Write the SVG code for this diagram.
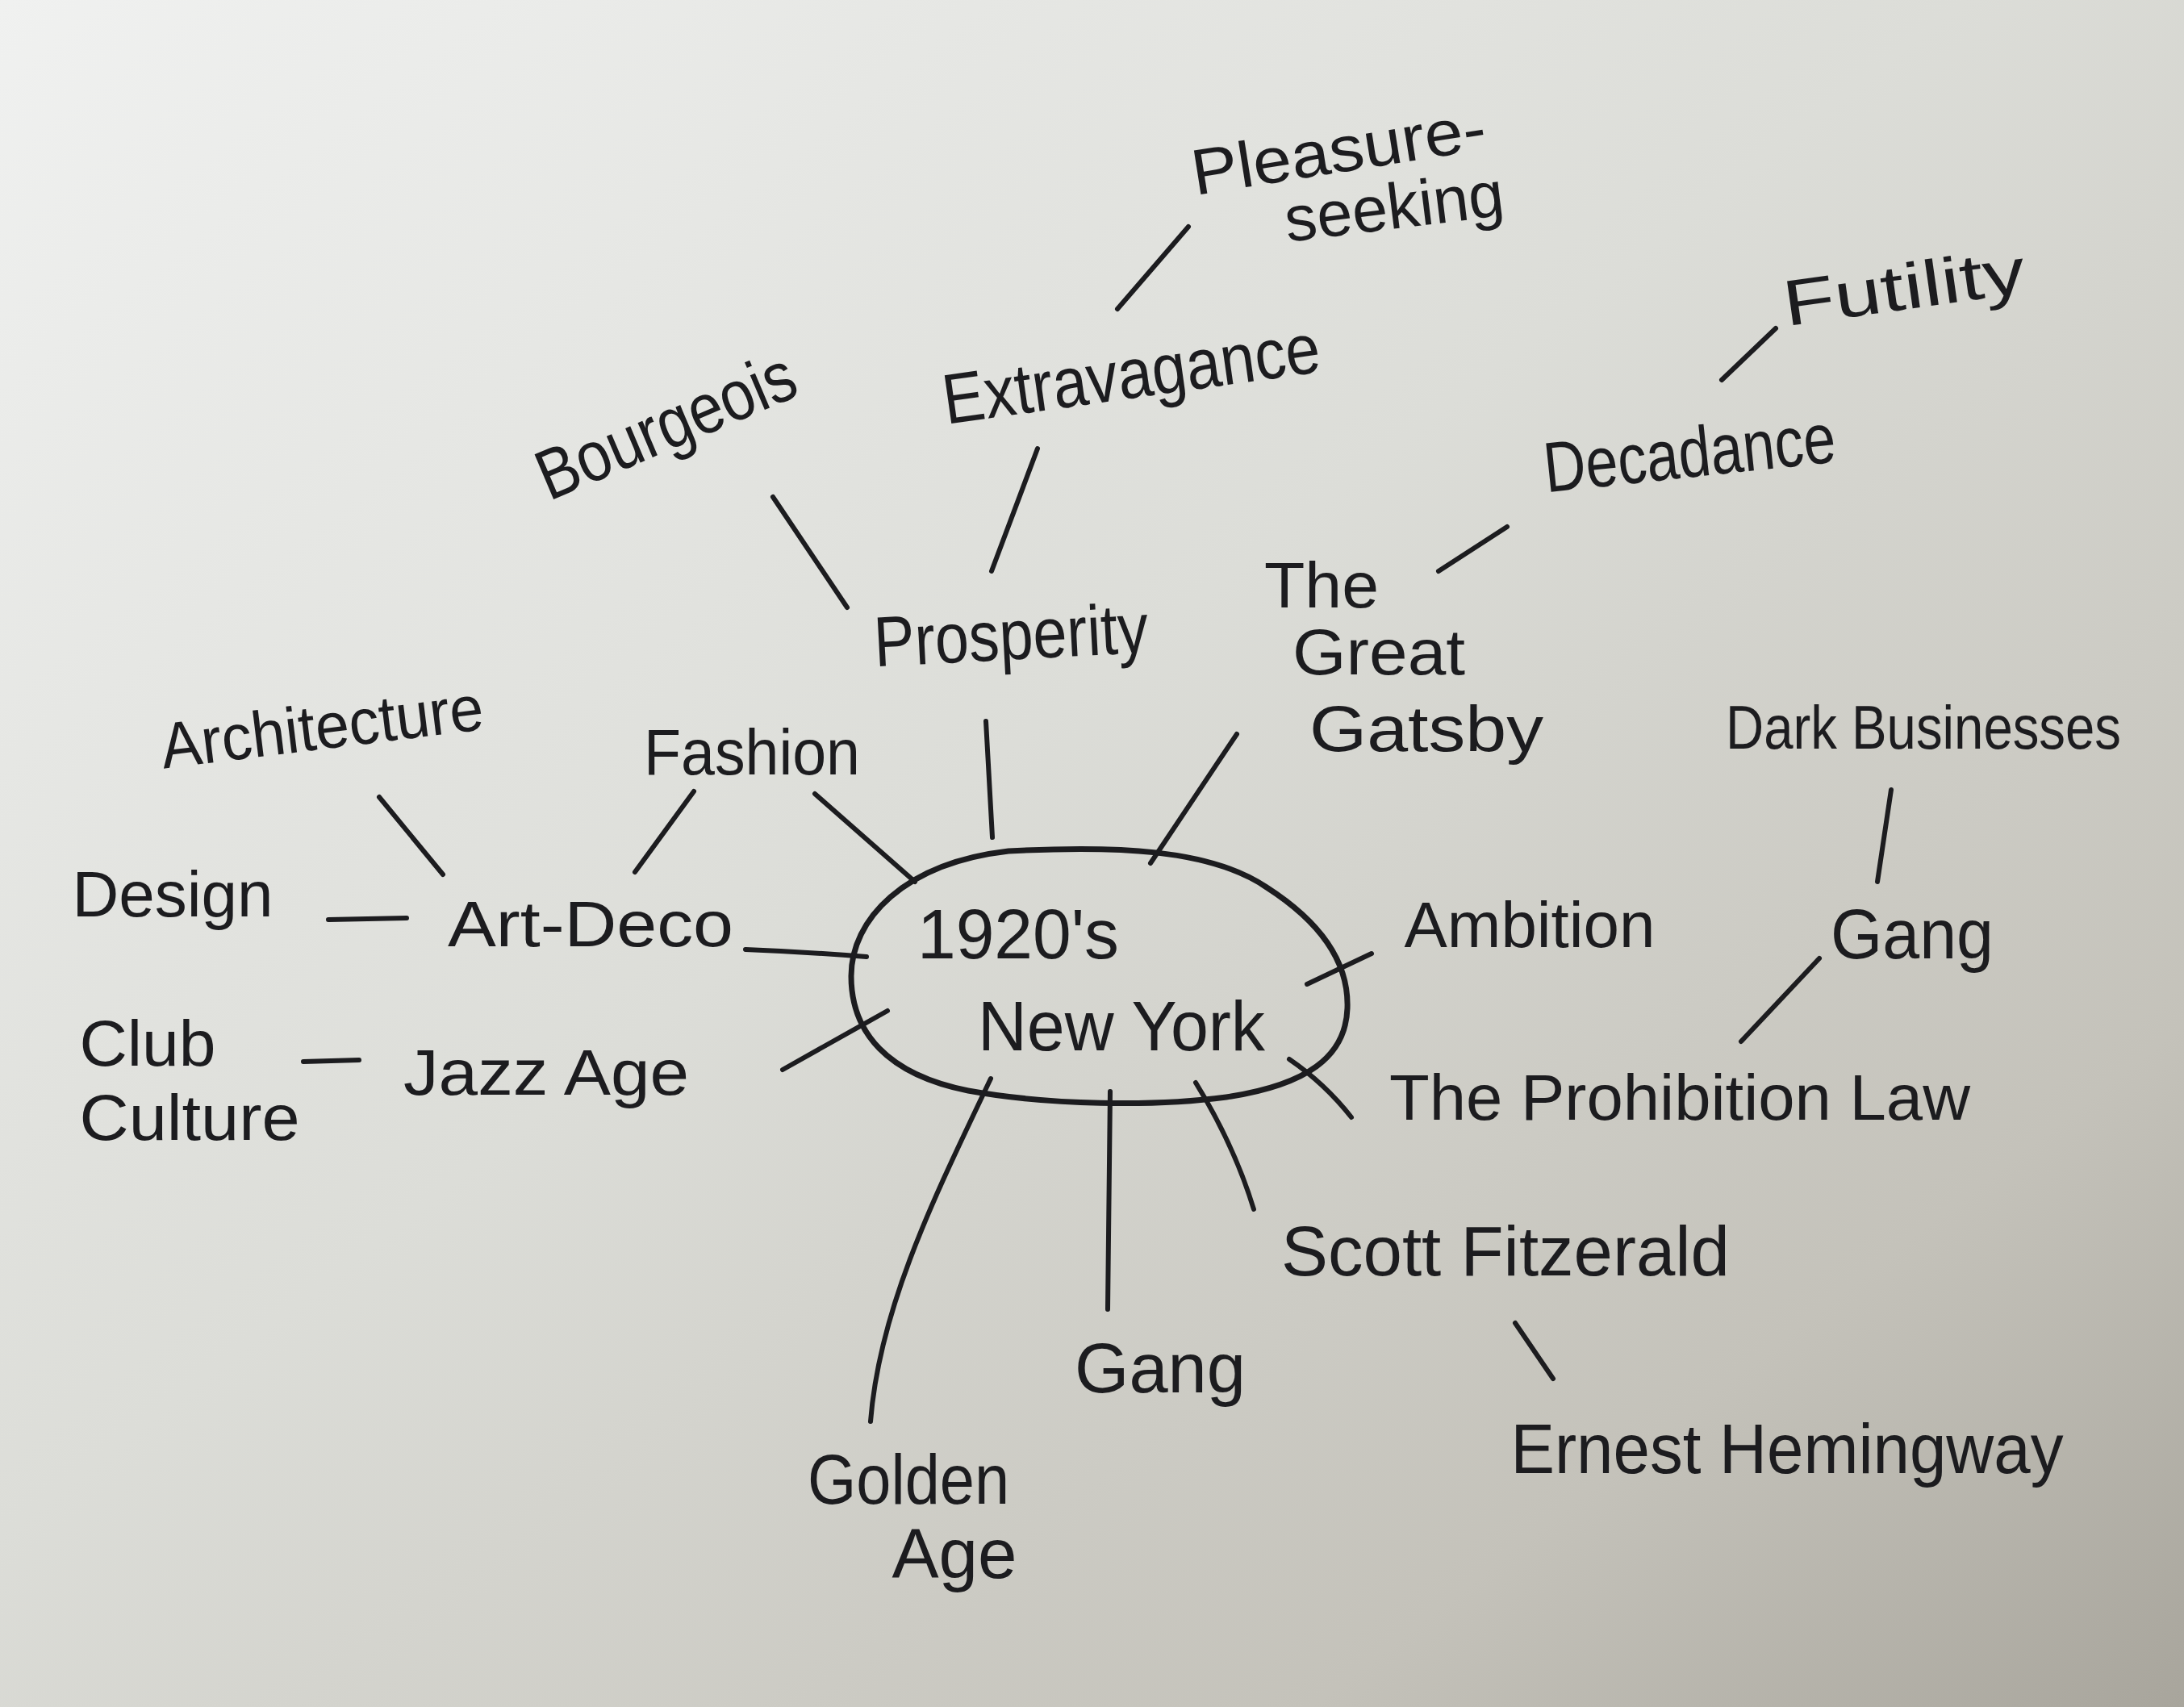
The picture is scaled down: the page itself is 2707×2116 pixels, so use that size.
<svg xmlns="http://www.w3.org/2000/svg" width="2707" height="2116" viewBox="0 0 2707 2116">
<defs>
<linearGradient id="paper" x1="0" y1="0" x2="1" y2="1">
<stop offset="0" stop-color="#f0f1f0"/>
<stop offset="0.45" stop-color="#dcddd8"/>
<stop offset="0.8" stop-color="#c4c2ba"/>
<stop offset="1" stop-color="#a8a59c"/>
</linearGradient>
<style>
.t{font-family:"Liberation Sans","DejaVu Sans",sans-serif;font-size:88px;fill:#1c1c1f;text-anchor:middle;dominant-baseline:central;}
.s{font-size:80px;}
.c{fill:none;stroke:#1c1c1f;stroke-width:6;stroke-linecap:round;}
</style>
</defs>
<rect width="2707" height="2116" fill="url(#paper)"/>

<g id="connectors" class="c">
<line x1="1473" y1="281" x2="1385" y2="383"/>
<line x1="1286" y1="556" x2="1229" y2="708"/>
<line x1="958" y1="616" x2="1050" y2="753"/>
<line x1="2201" y1="407" x2="2134" y2="471"/>
<line x1="1868" y1="653" x2="1783" y2="708"/>
<line x1="1222" y1="894" x2="1230" y2="1038"/>
<line x1="1533" y1="910" x2="1426" y2="1070"/>
<line x1="470" y1="988" x2="549" y2="1084"/>
<line x1="860" y1="981" x2="787" y2="1081"/>
<line x1="1010" y1="984" x2="1134" y2="1093"/>
<line x1="407" y1="1140" x2="504" y2="1138"/>
<path d="M924 1177 Q1000 1180 1074 1186"/>
<line x1="376" y1="1316" x2="445" y2="1314"/>
<line x1="970" y1="1326" x2="1100" y2="1253"/>
<line x1="1620" y1="1220" x2="1700" y2="1182"/>
<line x1="2344" y1="979" x2="2327" y2="1093"/>
<line x1="2255" y1="1188" x2="2158" y2="1291"/>
<path d="M1598 1313 Q1642 1343 1675 1385"/>
<path d="M1482 1342 Q1530 1420 1554 1499"/>
<line x1="1376" y1="1353" x2="1373" y2="1623"/>
<path d="M1228 1337 C1160 1480 1090 1620 1079 1762"/>
<line x1="1878" y1="1640" x2="1925" y2="1709"/>
</g>

<g id="center">
<path class="c" style="stroke-width:7" d="M1250 1055 C1380 1048 1500 1052 1570 1100 C1640 1145 1672 1195 1670 1250 C1668 1310 1620 1345 1520 1360 C1430 1372 1300 1370 1200 1352 C1100 1332 1055 1280 1055 1210 C1055 1140 1120 1070 1250 1055 Z"/>
<text class="t" x="1262" y="1157" textLength="250" lengthAdjust="spacingAndGlyphs">1920's</text>
<text class="t" x="1390" y="1271" textLength="356" lengthAdjust="spacingAndGlyphs">New York</text>
</g>

<g id="pleasure-seeking">
<text class="t s" x="1659" y="186" textLength="368" lengthAdjust="spacingAndGlyphs" transform="rotate(-9 1659 186)">Pleasure-</text>
<text class="t s" x="1728" y="256" textLength="273" lengthAdjust="spacingAndGlyphs" transform="rotate(-7 1728 256)">seeking</text>
</g>
<g id="extravagance">
<text class="t" x="1402" y="463" textLength="471" lengthAdjust="spacingAndGlyphs" transform="rotate(-8 1402 463)">Extravagance</text>
</g>
<g id="bourgeois">
<text class="t" x="825" y="527" textLength="340" lengthAdjust="spacingAndGlyphs" transform="rotate(-23 825 527)">Bourgeois</text>
</g>
<g id="futility">
<text class="t s" x="2360" y="356" textLength="302" lengthAdjust="spacingAndGlyphs" transform="rotate(-8 2360 356)">Futility</text>
</g>
<g id="decadance">
<text class="t" x="2094" y="561" textLength="363" lengthAdjust="spacingAndGlyphs" transform="rotate(-6 2094 561)">Decadance</text>
</g>
<g id="great-gatsby">
<text class="t s" x="1638" y="725" textLength="142" lengthAdjust="spacingAndGlyphs">The</text>
<text class="t s" x="1709" y="808" textLength="214" lengthAdjust="spacingAndGlyphs">Great</text>
<text class="t s" x="1768" y="903" textLength="290" lengthAdjust="spacingAndGlyphs">Gatsby</text>
</g>
<g id="prosperity">
<text class="t" x="1253" y="787" textLength="340" lengthAdjust="spacingAndGlyphs" transform="rotate(-3 1253 787)">Prosperity</text>
</g>
<g id="architecture">
<text class="t s" x="399" y="901" textLength="402" lengthAdjust="spacingAndGlyphs" transform="rotate(-7 399 901)">Architecture</text>
</g>
<g id="fashion">
<text class="t s" x="932" y="932" textLength="268" lengthAdjust="spacingAndGlyphs">Fashion</text>
</g>
<g id="design">
<text class="t s" x="214" y="1108" textLength="249" lengthAdjust="spacingAndGlyphs">Design</text>
</g>
<g id="art-deco">
<text class="t s" x="732" y="1145" textLength="354" lengthAdjust="spacingAndGlyphs">Art-Deco</text>
</g>
<g id="club-culture">
<text class="t s" x="183" y="1293" textLength="169" lengthAdjust="spacingAndGlyphs">Club</text>
<text class="t s" x="235" y="1385" textLength="273" lengthAdjust="spacingAndGlyphs">Culture</text>
</g>
<g id="jazz-age">
<text class="t s" x="677" y="1329" textLength="354" lengthAdjust="spacingAndGlyphs">Jazz Age</text>
</g>
<g id="ambition">
<text class="t s" x="1896" y="1146" textLength="311" lengthAdjust="spacingAndGlyphs">Ambition</text>
</g>
<g id="dark-businesses">
<text class="t" style="font-size:76px" x="2384" y="901" textLength="490" lengthAdjust="spacingAndGlyphs">Dark Businesses</text>
</g>
<g id="gang-right">
<text class="t" x="2370" y="1157" textLength="202" lengthAdjust="spacingAndGlyphs">Gang</text>
</g>
<g id="prohibition-law">
<text class="t s" x="2082" y="1360" textLength="720" lengthAdjust="spacingAndGlyphs">The Prohibition Law</text>
</g>
<g id="scott-fitzerald">
<text class="t" x="1866" y="1550" textLength="556" lengthAdjust="spacingAndGlyphs">Scott Fitzerald</text>
</g>
<g id="ernest-hemingway">
<text class="t" x="2215" y="1795" textLength="685" lengthAdjust="spacingAndGlyphs">Ernest Hemingway</text>
</g>
<g id="gang-bottom">
<text class="t" x="1438" y="1695" textLength="212" lengthAdjust="spacingAndGlyphs">Gang</text>
</g>
<g id="golden-age">
<text class="t" x="1126" y="1833" textLength="250" lengthAdjust="spacingAndGlyphs">Golden</text>
<text class="t" x="1183" y="1925" textLength="155" lengthAdjust="spacingAndGlyphs">Age</text>
</g>
</svg>
